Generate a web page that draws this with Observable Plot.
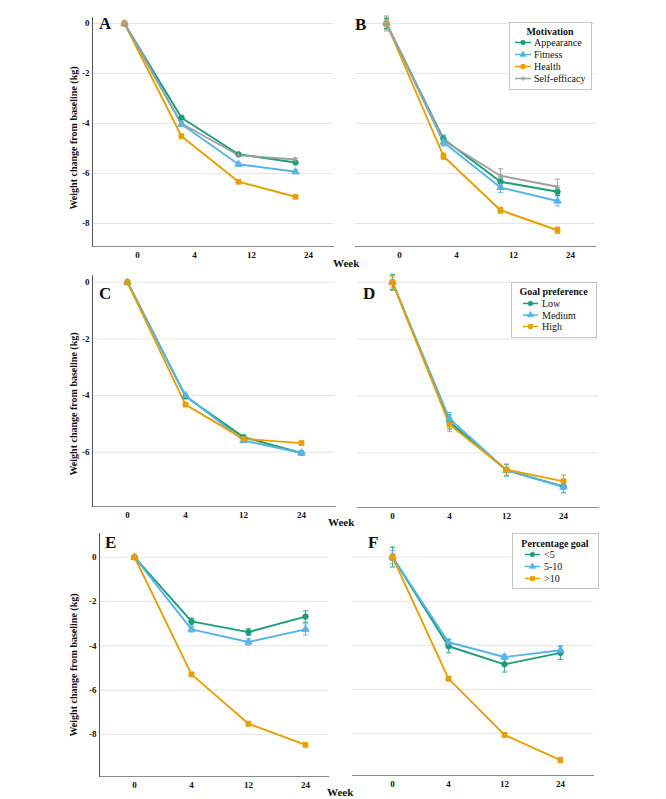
<!DOCTYPE html>
<html>
<head>
<meta charset="utf-8">
<script src="https://cdn.jsdelivr.net/npm/d3@7"></script>
<script src="https://cdn.jsdelivr.net/npm/@observablehq/plot@0.6"></script>
<style>
  html, body { margin: 0; padding: 0; background: #fff; }
  #fig { position: relative; width: 666px; height: 799px; background: #fff; overflow: hidden; }
  #fig > .panel { position: absolute; }
  #overlay { position: absolute; left: 0; top: 0; pointer-events: none; }
</style>
</head>
<body>
<div id="fig"></div>
<script>
// ---------- data ----------
const weeks = ["0", "4", "12", "24"];
const motivationGroups = ["Appearance", "Fitness", "Health", "Self-efficacy"];
const goalPrefGroups = ["Low", "Medium", "High"];
const pctGoalGroups = ["<5", "5-10", ">10"];
const yTicksAE = [0, -2, -4, -6, -8];
const yTicksC = [0, -2, -4, -6];

// Panel A (motivation)
const aAppearance = [0, -3.77, -5.23, -5.56];
const aFitness = [0, -4.03, -5.63, -5.93];
const aHealth = [0, -4.51, -6.33, -6.93];
const aSelfEfficacy = [0, -4.0, -5.27, -5.44];
const aErr = [0.04, 0.06, 0.06, 0.06];
// Panel B (motivation)
const bAppearance = [0, -4.62, -6.33, -6.73];
const bFitness = [0, -4.75, -6.56, -7.1];
const bHealth = [0, -5.31, -7.47, -8.27];
const bSelfEfficacy = [0, -4.68, -6.09, -6.53];
const bAppearanceErr = [0.2, 0.15, 0.15, 0.15];
const bFitnessErr = [0.25, 0.15, 0.2, 0.2];
const bHealthErr = [0.15, 0.13, 0.12, 0.13];
const bSelfEfficacyErr = [0.3, 0.2, 0.28, 0.3];
// Panel C (goal preference)
const cLow = [0, -4.03, -5.47, -6.03];
const cMedium = [0, -4.0, -5.59, -6.03];
const cHigh = [0, -4.32, -5.53, -5.68];
const cErr = [0.04, 0.05, 0.05, 0.05];
// Panel D (goal preference)
const dLow = [0, -4.91, -6.61, -7.18];
const dMedium = [0, -4.8, -6.61, -7.2];
const dHigh = [0, -5.0, -6.59, -7.0];
const dLowErr = [0.28, 0.25, 0.2, 0.22];
const dMediumErr = [0.25, 0.22, 0.2, 0.2];
const dHighErr = [0.2, 0.25, 0.2, 0.22];
// Panel E (percentage goal)
const eLt5 = [0, -2.9, -3.38, -2.68];
const e5to10 = [0, -3.26, -3.83, -3.26];
const eGt10 = [0, -5.29, -7.52, -8.47];
const eLt5Err = [0.02, 0.15, 0.15, 0.26];
const e5to10Err = [0.02, 0.12, 0.15, 0.25];
const eGt10Err = [0.02, 0.06, 0.06, 0.06];
// Panel F (percentage goal)
const fLt5 = [0, -4.04, -4.86, -4.34];
const f5to10 = [0, -3.86, -4.53, -4.22];
const fGt10 = [0, -5.51, -8.06, -9.2];
const fLt5Err = [0.45, 0.3, 0.35, 0.3];
const f5to10Err = [0.3, 0.15, 0.12, 0.2];
const fGt10Err = [0.15, 0.1, 0.1, 0.12];

const yLabel = "Weight change from baseline (kg)";
const xLabel = "Week";
const legendTitles = {B: "Motivation", D: "Goal preference", F: "Percentage goal"};

// ---------- styles ----------
const green = "#1b9e77", blue = "#56b4e9", orange = "#e69f00", gray = "#a0a0a0";
const serif = '"Liberation Serif", "Times New Roman", serif';
const colors4 = [green, blue, orange, gray];
const colors3 = [green, blue, orange];
const symbols4 = [d3.symbolCircle, d3.symbolTriangle, d3.symbolSquare, d3.symbolAsterisk];
const symbols3 = [d3.symbolCircle, d3.symbolTriangle, d3.symbolSquare];

function makeTable(groups, values, errors) {
  return groups.flatMap((g, i) => weeks.map((w, j) => ({week: w, group: g, value: values[i][j], err: errors[i][j]})));
}

const capSymbol = {draw(ctx) { ctx.moveTo(-2.5, 0); ctx.lineTo(2.5, 0); }};

const panels = [
  {id: "A", groups: motivationGroups, colors: colors4, symbols: symbols4,
   data: makeTable(motivationGroups, [aAppearance, aFitness, aHealth, aSelfEfficacy], [aErr, aErr, aErr, aErr]),
   left: 0, top: 0, width: 340, height: 270, mL: 92, mR: 7, mT: 17, mB: 24,
   yDomain: [-8.92, 0.24], yTicks: yTicksAE, padding: 0.6, align: 0.46, tickDx: 13, showY: true, labelDx: -19, labelDy: 6},
  {id: "B", groups: motivationGroups, colors: colors4, symbols: symbols4,
   data: makeTable(motivationGroups, [bAppearance, bFitness, bHealth, bSelfEfficacy], [bAppearanceErr, bFitnessErr, bHealthErr, bSelfEfficacyErr]),
   left: 340, top: 0, width: 326, height: 270, mL: 15, mR: 71, mT: 17, mB: 24,
   yDomain: [-8.92, 0.24], yTicks: yTicksAE, padding: 0.6, align: 0.45, tickDx: 13, showY: false},
  {id: "C", groups: goalPrefGroups, colors: colors3, symbols: symbols3,
   data: makeTable(goalPrefGroups, [cLow, cMedium, cHigh], [cErr, cErr, cErr]),
   left: 0, top: 265, width: 340, height: 265, mL: 92, mR: 5, mT: 10, mB: 24,
   yDomain: [-7.92, 0.24], yTicks: yTicksC, padding: 0.58, align: 0.5, tickDx: 0, showY: true, labelDx: -19, labelDy: 13},
  {id: "D", groups: goalPrefGroups, colors: colors3, symbols: symbols3,
   data: makeTable(goalPrefGroups, [dLow, dMedium, dHigh], [dLowErr, dMediumErr, dHighErr]),
   left: 340, top: 265, width: 326, height: 265, mL: 17, mR: 68, mT: 10, mB: 23,
   yDomain: [-7.92, 0.24], yTicks: yTicksC, padding: 0.6, align: 0.5, tickDx: 0, showY: false},
  {id: "E", groups: pctGoalGroups, colors: colors3, symbols: symbols3,
   data: makeTable(pctGoalGroups, [eLt5, e5to10, eGt10], [eLt5Err, e5to10Err, eGt10Err]),
   left: 0, top: 528, width: 340, height: 271, mL: 99, mR: 12, mT: 5, mB: 23,
   yDomain: [-9.9, 1.07], yTicks: yTicksAE, padding: 0.5, align: 0.61, tickDx: 0, showY: true, labelDx: -26, labelDy: 10},
  {id: "F", groups: pctGoalGroups, colors: colors3, symbols: symbols3,
   data: makeTable(pctGoalGroups, [fLt5, f5to10, fGt10], [fLt5Err, f5to10Err, fGt10Err]),
   left: 340, top: 528, width: 326, height: 271, mL: 12, mR: 73, mT: 5, mB: 24,
   yDomain: [-9.9, 1.07], yTicks: yTicksAE, padding: 0.625, align: 0.55, tickDx: 0, showY: false}
];

const fig = document.getElementById("fig");

for (const p of panels) {
  const marks = [
    Plot.gridY(p.yTicks, {stroke: "#e4e4e4", strokeOpacity: 1}),
    Plot.frame({anchor: "bottom", stroke: "#8c8c8c"}),
    Plot.axisX({tickSize: 0, tickPadding: 5, dx: p.tickDx, fontWeight: "bold", fontSize: 9, label: null})
  ];
  if (p.showY) {
    marks.push(
      Plot.frame({anchor: "left", stroke: "#555"}),
      Plot.axisY(p.yTicks, {tickSize: 0, tickPadding: 3, tickFormat: d => String(d), fontWeight: "bold", fontSize: 9, label: null}),
      Plot.text([yLabel], {text: d => d, frameAnchor: "left", textAnchor: "middle", lineAnchor: "middle",
        rotate: -90, dx: p.labelDx, dy: p.labelDy, fontWeight: "bold", fontSize: 10})
    );
  }
  marks.push(
    Plot.ruleX(p.data, {x: "week", y1: d => d.value - d.err, y2: d => d.value + d.err, stroke: "group", strokeWidth: 1.1, strokeOpacity: 0.85}),
    Plot.dot(p.data, {x: "week", y: d => d.value + d.err, symbol: capSymbol, stroke: "group", fill: "none", strokeWidth: 1.1, strokeOpacity: 0.85}),
    Plot.dot(p.data, {x: "week", y: d => d.value - d.err, symbol: capSymbol, stroke: "group", fill: "none", strokeWidth: 1.1, strokeOpacity: 0.85}),
    Plot.line(p.data, {x: "week", y: "value", z: "group", stroke: "group", strokeWidth: 1.9}),
    Plot.dot(p.data, {x: "week", y: "value", symbol: "group", fill: "group", stroke: "group", r: 2.8, strokeWidth: 0.8})
  );
  const chart = Plot.plot({
    width: p.width, height: p.height,
    marginLeft: p.mL, marginRight: p.mR, marginTop: p.mT, marginBottom: p.mB,
    style: {background: "transparent", fontFamily: serif, overflow: "visible", color: "#111"},
    x: {type: "point", domain: weeks, padding: p.padding, align: p.align, axis: null},
    y: {domain: p.yDomain, axis: null},
    color: {domain: p.groups, range: p.colors},
    symbol: {domain: p.groups, range: p.symbols},
    marks
  });
  chart.classList.add("panel");
  chart.style.left = p.left + "px";
  chart.style.top = p.top + "px";
  chart.style.maxWidth = "none";
  fig.appendChild(chart);
}

// ---------- overlay: panel letters, week labels, legends ----------
const svg = d3.select(fig).append("svg").attr("id", "overlay")
  .attr("width", 666).attr("height", 799)
  .style("font-family", serif);

const letters = [["A", 99, 29], ["B", 355, 30], ["C", 99, 299], ["D", 363, 299], ["E", 105, 548], ["F", 368, 548]];
for (const [t, x, y] of letters) {
  svg.append("text").attr("x", x).attr("y", y).attr("font-size", 17).attr("font-weight", "bold").attr("fill", "#111").text(t);
}
const weekPos = [[333, 267], [328, 526], [327, 796]];
for (const [x, y] of weekPos) {
  svg.append("text").attr("x", x).attr("y", y).attr("font-size", 11).attr("font-weight", "bold").attr("fill", "#111").text(xLabel);
}

const legends = [
  {title: legendTitles.B, groups: motivationGroups, colors: colors4, symbols: symbols4,
   box: [509, 22, 82, 67], titleY: 35, rowY0: 46, rowStep: 12, sw: [515, 531], textX: 534},
  {title: legendTitles.D, groups: goalPrefGroups, colors: colors3, symbols: symbols3,
   box: [511, 282, 85, 55], titleY: 295, rowY0: 307, rowStep: 11.5, sw: [523, 538], textX: 542},
  {title: legendTitles.F, groups: pctGoalGroups, colors: colors3, symbols: symbols3,
   box: [512, 533, 86, 55], titleY: 547, rowY0: 558, rowStep: 12, sw: [525, 540], textX: 544}
];
for (const L of legends) {
  const [bx, by, bw, bh] = L.box;
  svg.append("rect").attr("x", bx + 0.5).attr("y", by + 0.5).attr("width", bw).attr("height", bh)
    .attr("fill", "#fff").attr("stroke", "#c4c4c4");
  svg.append("text").attr("x", bx + bw / 2).attr("y", L.titleY).attr("text-anchor", "middle")
    .attr("font-size", 10).attr("font-weight", "bold").attr("fill", "#111").text(L.title);
  L.groups.forEach((g, i) => {
    const y = L.rowY0 + i * L.rowStep;
    const cy = y - 3.5;
    svg.append("line").attr("x1", L.sw[0]).attr("x2", L.sw[1]).attr("y1", cy).attr("y2", cy)
      .attr("stroke", L.colors[i]).attr("stroke-width", 1.5);
    svg.append("path").attr("d", d3.symbol(L.symbols[i], 16)())
      .attr("transform", `translate(${(L.sw[0] + L.sw[1]) / 2},${cy})`)
      .attr("fill", L.colors[i]).attr("stroke", L.colors[i]).attr("stroke-width", 0.8);
    svg.append("text").attr("x", L.textX).attr("y", y).attr("font-size", 10).attr("fill", "#111").text(g);
  });
}
</script>
</body>
</html>
